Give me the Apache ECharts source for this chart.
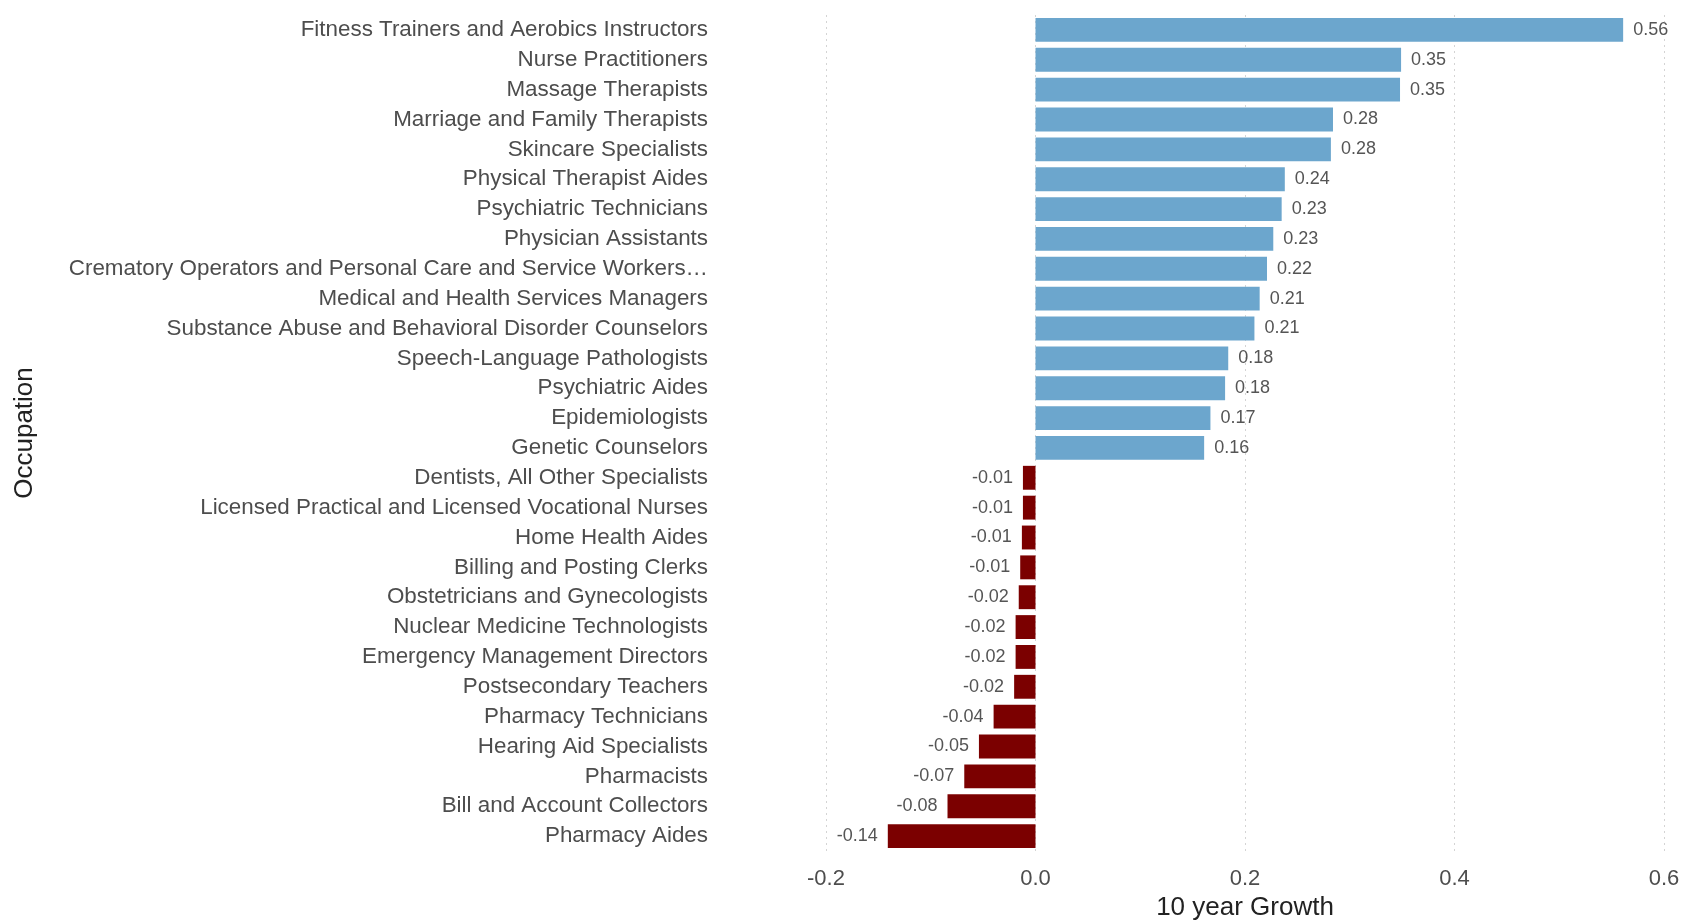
<!DOCTYPE html>
<html>
<head>
<meta charset="utf-8">
<script src="https://cdn.jsdelivr.net/npm/echarts@6/dist/echarts.min.js"></script>
<style>
html,body{margin:0;padding:0;background:#fff;}
#chart{width:1689px;height:921px;}
</style>
</head>
<body>
<div id="chart"></div>
<script>
const occupations = [
  "Fitness Trainers and Aerobics Instructors",
  "Nurse Practitioners",
  "Massage Therapists",
  "Marriage and Family Therapists",
  "Skincare Specialists",
  "Physical Therapist Aides",
  "Psychiatric Technicians",
  "Physician Assistants",
  "Crematory Operators and Personal Care and Service Workers\u2026",
  "Medical and Health Services Managers",
  "Substance Abuse and Behavioral Disorder Counselors",
  "Speech-Language Pathologists",
  "Psychiatric Aides",
  "Epidemiologists",
  "Genetic Counselors",
  "Dentists, All Other Specialists",
  "Licensed Practical and Licensed Vocational Nurses",
  "Home Health Aides",
  "Billing and Posting Clerks",
  "Obstetricians and Gynecologists",
  "Nuclear Medicine Technologists",
  "Emergency Management Directors",
  "Postsecondary Teachers",
  "Pharmacy Technicians",
  "Hearing Aid Specialists",
  "Pharmacists",
  "Bill and Account Collectors",
  "Pharmacy Aides"
];
const growth = [
  0.561, 0.349, 0.348, 0.284, 0.282, 0.238, 0.235, 0.227, 0.221, 0.214,
  0.209, 0.184, 0.181, 0.167, 0.161,
  -0.012, -0.012, -0.013, -0.0146, -0.016, -0.019, -0.019, -0.0204,
  -0.040, -0.054, -0.068, -0.084, -0.141
];
const xTicks = [-0.2, 0.0, 0.2, 0.4, 0.6];

const POS = '#6CA6CD', NEG = '#7B0000';
const chart = echarts.init(document.getElementById('chart'), null, {renderer: 'canvas'});
const FONT = 'Arial, "Liberation Sans", sans-serif';

const data = growth.map(v => ({
  value: v,
  itemStyle: {color: v >= 0 ? POS : NEG},
  label: {position: v >= 0 ? 'right' : 'left', distance: 10}
}));

chart.setOption({
  animation: false,
  backgroundColor: '#ffffff',
  grid: {left: 826, right: 25, top: 15, bottom: 70, containLabel: false, outerBoundsMode: 'none'},
  xAxis: {
    type: 'value',
    min: xTicks[0], max: xTicks[xTicks.length - 1], interval: 0.2,
    name: '10 year Growth',
    nameLocation: 'middle',
    nameGap: 43,
    nameTextStyle: {fontSize: 26, color: '#222', fontFamily: FONT},
    axisLine: {show: false},
    axisTick: {show: false},
    axisLabel: {
      fontSize: 22, color: '#4d4d4d', fontFamily: FONT, margin: 17,
      formatter: v => v.toFixed(1)
    },
    splitLine: {show: true, lineStyle: {color: '#d4d4d4', type: [2, 4], width: 1}}
  },
  yAxis: {
    type: 'category',
    data: occupations,
    inverse: true,
    name: 'Occupation',
    nameLocation: 'middle',
    nameGap: 788,
    nameRotate: 90,
    nameTextStyle: {fontSize: 26, color: '#222', fontFamily: FONT},
    axisLine: {show: false},
    axisTick: {show: false},
    axisLabel: {fontSize: 22.4, color: '#4d4d4d', fontFamily: FONT, margin: 118},
    splitLine: {show: false}
  },
  series: [{
    type: 'bar',
    data: data,
    barCategoryGap: '20%',
    label: {
      show: true,
      fontSize: 18,
      color: '#555',
      fontFamily: FONT,
      formatter: p => p.value.toFixed(2)
    }
  }]
});
</script>
</body>
</html>
